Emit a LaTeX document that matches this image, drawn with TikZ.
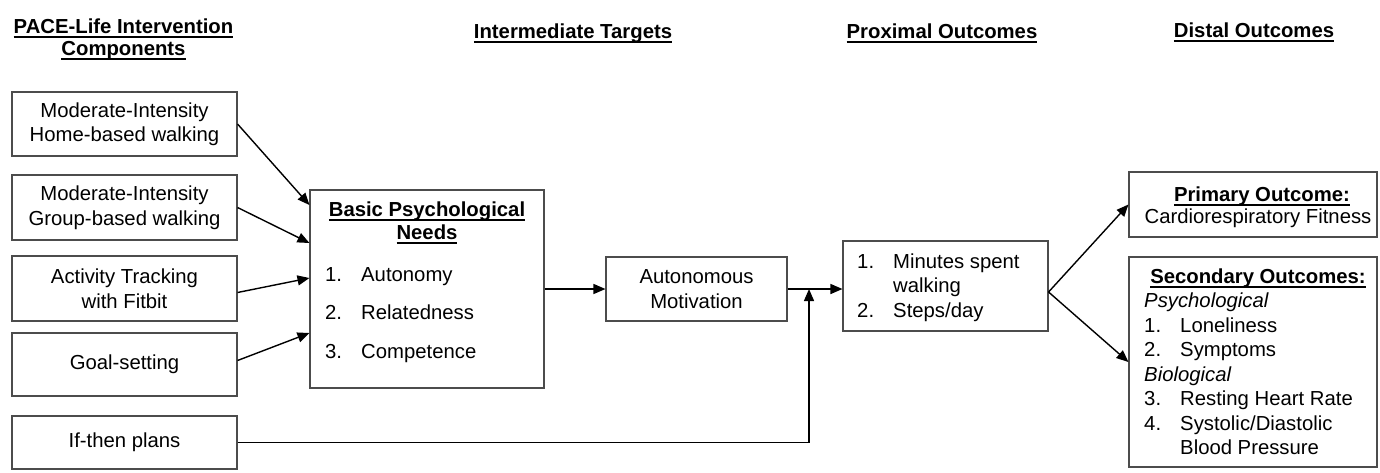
\documentclass[tikz,border=0pt]{standalone}
\usepackage{fontspec}
\setmainfont{Liberation Sans}
\usetikzlibrary{arrows.meta}
\newcommand\ulx[1]{\setbox0=\hbox{#1}\leavevmode\rlap{\copy0}\raisebox{-4.5pt}{\rule{\wd0}{1.6pt}}}
\begin{document}
\begin{tikzpicture}[x=1pt,y=-1pt,
  font=\fontsize{20.3}{24.5}\selectfont,
  box/.style={draw=black!70,line width=1.1pt,inner sep=0pt,align=center},
  conn/.style={line width=1.4pt,-{Triangle[length=12pt,width=10pt]}},
  txt/.style={inner sep=0pt,anchor=base west},
  ctxt/.style={inner sep=0pt,anchor=base},
  hd/.style={inner sep=0pt,anchor=base,font=\fontsize{20.3}{24.5}\selectfont\bfseries}]
\useasboundingbox (0,0) rectangle (1380,472);
% headers
\node[hd] (h1) at (123.5,33) {\ulx{PACE-Life Intervention}};
\node[hd] (h2) at (123.5,55) {\ulx{Components}};
\node[hd] (h3) at (573,38) {\ulx{Intermediate Targets}};
\node[hd] (h4) at (942,38) {\ulx{Proximal Outcomes}};
\node[hd] (h5) at (1254,37) {\ulx{Distal Outcomes}};
% left boxes
\node[box,minimum width=225pt,minimum height=64pt] (b1) at (124.5,124) {Moderate-Intensity\\Home-based walking};
\node[box,minimum width=225pt,minimum height=65pt] (b2) at (124.5,207.5) {Moderate-Intensity\\Group-based walking};
\node[box,minimum width=225pt,minimum height=65pt] (b3) at (124.5,288.5) {Activity Tracking\\with Fitbit};
\node[box,minimum width=225pt,minimum height=63pt] (b4) at (124.5,364.5) {Goal-setting};
\node[box,minimum width=225pt,minimum height=53pt] (b5) at (124.5,442.5) {If-then plans};
% needs box
\node[box,minimum width=234pt,minimum height=198pt] (needs) at (427,289) {};
\node[hd] (n1) at (427,216) {\ulx{Basic Psychological}};
\node[hd] (n2) at (427,239) {\ulx{Needs}};
\node[txt] (n3a) at (325,281) {1.};
\node[txt] (n3b) at (361,281) {Autonomy};
\node[txt] (n4a) at (325,319) {2.};
\node[txt] (n4b) at (361,319) {Relatedness};
\node[txt] (n5a) at (325,358) {3.};
\node[txt] (n5b) at (361,358) {Competence};
% motivation
\node[box,minimum width=181pt,minimum height=64pt] (mot) at (696.5,289) {Autonomous\\Motivation};
% proximal
\node[box,minimum width=205pt,minimum height=90pt] (prox) at (945.5,286) {};
\node[txt] (p1a) at (857,268) {1.};
\node[txt] (p1b) at (893,268) {Minutes spent};
\node[txt] (p1c) at (893,292.5) {walking};
\node[txt] (p2a) at (857,317) {2.};
\node[txt] (p2b) at (893,317) {Steps/day};
% primary
\node[box,minimum width=248pt,minimum height=65pt] (prim) at (1253,204.5) {};
\node[hd] (pr1) at (1262,201) {\ulx{Primary Outcome:}};
\node[ctxt] (pr2) at (1258,223) {Cardiorespiratory Fitness};
% secondary
\node[box,minimum width=248pt,minimum height=210pt] (sec) at (1253,362) {};
\node[hd] (s0) at (1258,283) {\ulx{Secondary Outcomes:}};
\node[txt,font=\fontsize{20.3}{24.5}\selectfont\itshape] (s1) at (1144,307) {Psychological};
\node[txt] (s2a) at (1144,332) {1.};
\node[txt] (s2b) at (1180,332) {Loneliness};
\node[txt] (s3a) at (1144,356) {2.};
\node[txt] (s3b) at (1180,356) {Symptoms};
\node[txt,font=\fontsize{20.3}{24.5}\selectfont\itshape] (s4) at (1144,381) {Biological};
\node[txt] (s5a) at (1144,405) {3.};
\node[txt] (s5b) at (1180,405) {Resting Heart Rate};
\node[txt] (s6a) at (1144,430) {4.};
\node[txt] (s6b) at (1180,430) {Systolic/Diastolic};
\node[txt] (s6c) at (1180,454) {Blood Pressure};
% connectors
\draw[conn] (b1.east) -- ([yshift=84pt]needs.west);
\draw[conn] (b2.east) -- ([yshift=46pt]needs.west);
\draw[conn] ([yshift=-4pt]b3.east) -- ([yshift=11pt]needs.west);
\draw[conn] ([yshift=4pt]b4.east) -- ([yshift=-44pt]needs.west);
\draw[conn] (needs.east) -- (mot.west);
\coordinate (j) at (809,289);
\draw[conn] (mot.east) -- (mot.east -| prox.west);
\draw[conn] (b5.east) -| (j);
\draw[conn] ([yshift=-6pt]prox.east) -- (prim.west);
\draw[conn] ([yshift=-6pt]prox.east) -- (sec.west);
\end{tikzpicture}
\end{document}
